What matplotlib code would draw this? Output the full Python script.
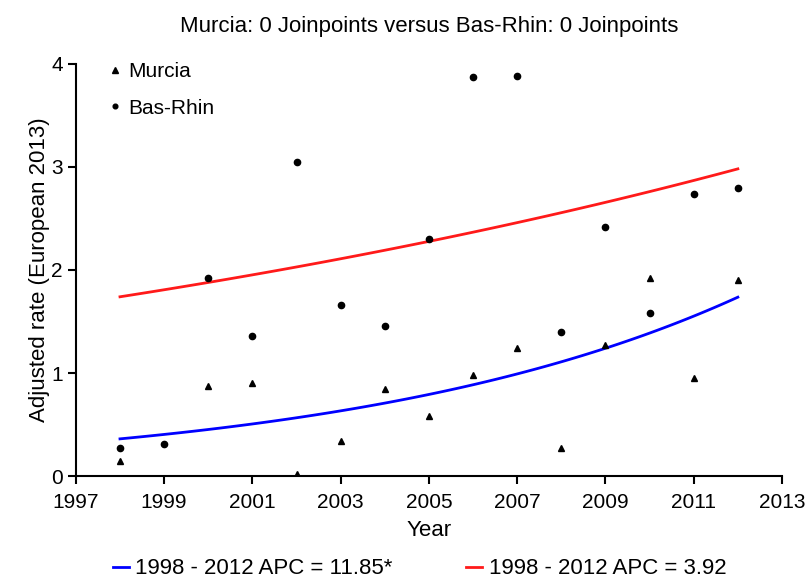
import numpy as np
import matplotlib.pyplot as plt
from matplotlib.lines import Line2D

plt.rcParams['font.family'] = ['Liberation Sans', 'DejaVu Sans']

# observed adjusted rates
years = np.arange(1998, 2013)
murcia = [0.15, np.nan, 0.87, 0.90, 0.02, 0.34, 0.85, 0.58, 0.98, 1.24, 0.27, 1.27, 1.92, 0.95, 1.90]
bas_rhin = [0.27, 0.31, 1.92, 1.36, 3.05, 1.66, 1.46, 2.30, 3.87, 3.88, 1.40, 2.42, 1.58, 2.74, 2.80]

# joinpoint fits (start value at 1998, APC in %)
murcia_start, murcia_apc = 0.362, 11.85
basrhin_start, basrhin_apc = 1.74, 3.92

xfit = np.linspace(1998, 2012, 100)
murcia_fit = murcia_start * (1 + murcia_apc / 100) ** (xfit - 1998)
basrhin_fit = basrhin_start * (1 + basrhin_apc / 100) ** (xfit - 1998)

fig = plt.figure(figsize=(8.07, 5.8), dpi=100)
ax = fig.add_axes([0.094, 0.179, 0.875, 0.711])

ax.plot(xfit, murcia_fit, color='#0000ff', lw=2)
ax.plot(xfit, basrhin_fit, color='#ff1a1a', lw=2)
ax.plot(years, murcia, '^', color='black', ms=5, ls='none', label='Murcia')
ax.plot(years, bas_rhin, 'o', color='black', ms=4.5, ls='none', label='Bas-Rhin')

ax.set_xlim(1997, 2013)
ax.set_ylim(0, 4)
ax.set_xticks(range(1997, 2014, 2))
ax.set_yticks(range(0, 5))
for s in ['top', 'right']:
    ax.spines[s].set_visible(False)
for s in ['left', 'bottom']:
    ax.spines[s].set_linewidth(1.5)
ax.tick_params(direction='out', length=6, width=1.5, labelsize=15)
ax.tick_params(axis='x', pad=6)
ax.set_xlabel('Year', fontsize=16)
ax.xaxis.set_label_coords(0.5, -0.107)
ax.set_ylabel('Adjusted rate (European 2013)', fontsize=16)
ax.yaxis.set_label_coords(-0.037, 0.5)
ax.text(0.5, 1 + 37 / 412, 'Murcia: 0 Joinpoints versus Bas-Rhin: 0 Joinpoints',
        transform=ax.transAxes, fontsize=16, ha='center', va='center')

ax.legend(loc='upper left', frameon=False, fontsize=15, handlelength=0.8,
          handletextpad=0.25, borderaxespad=0, bbox_to_anchor=(0.032, 1.025),
          labelspacing=0.85, markerscale=0.75)

handles = [Line2D([], [], color='#0000ff', lw=2),
           Line2D([], [], color='#ff1a1a', lw=2)]
fig.legend(handles, ['1998 - 2012 APC = 11.85*', '1998 - 2012 APC = 3.92'],
           loc='center', bbox_to_anchor=(0.52, 1 - 569 / 580), ncol=2, frameon=False,
           fontsize=16, handlelength=0.72, handletextpad=0.3, columnspacing=3.3)

fig.savefig('out.png', dpi=100)
